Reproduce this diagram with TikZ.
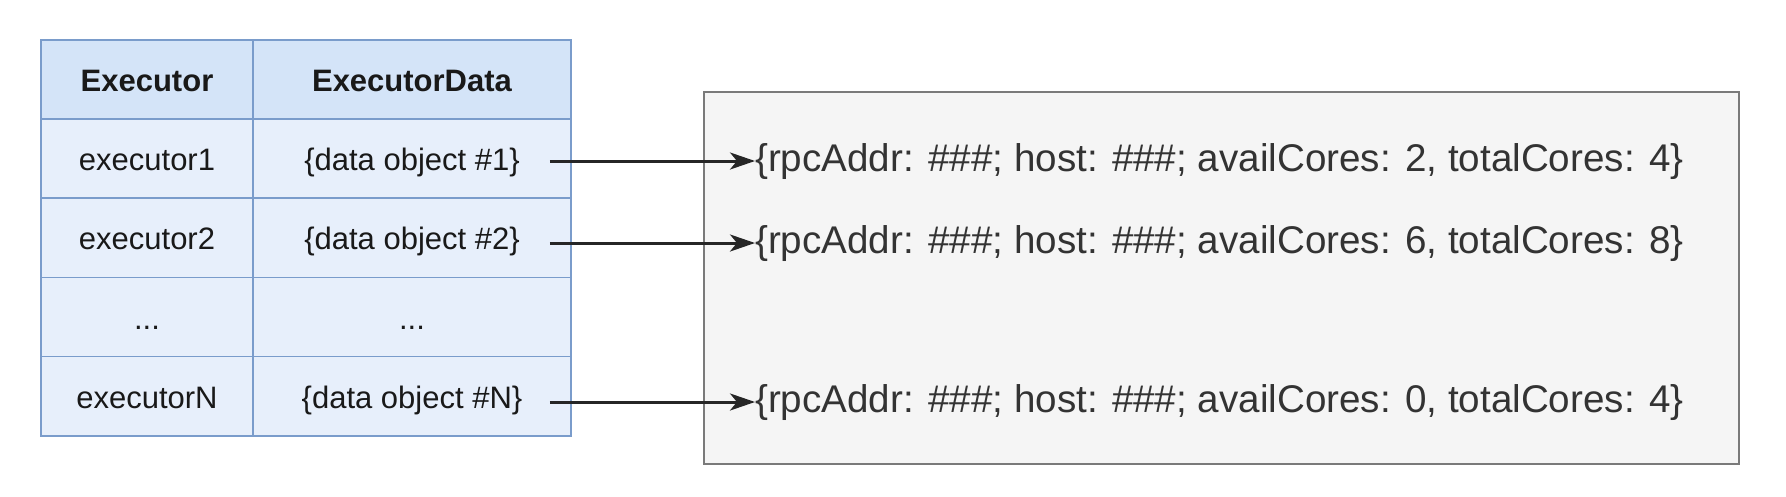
\documentclass[tikz,border=0pt]{standalone}
\usepackage{fontspec}
\setmainfont{Liberation Sans}
\usetikzlibrary{arrows.meta}
\definecolor{hdrfill}{HTML}{D4E4F8}
\definecolor{cellfill}{HTML}{E7EFFB}
\definecolor{tblline}{HTML}{7A9CCB}
\definecolor{boxfill}{HTML}{F5F5F5}
\definecolor{boxline}{HTML}{7A7A7A}
\definecolor{rtext}{HTML}{333333}
\tikzset{
  cell/.style={draw=tblline, line width=1.6pt, inner sep=0pt, text height=26pt, text depth=2pt, font=\fontsize{31}{36}\selectfont, text=black!90},
  c1/.style={cell, minimum width=212pt},
  c2/.style={cell, minimum width=318pt},
  hdr/.style={fill=hdrfill, minimum height=79pt, font=\fontsize{31}{36}\selectfont\bfseries},
  row/.style={fill=cellfill, minimum height=79.2pt},
  rec/.style={inner sep=0pt, anchor=west, text=rtext, text height=28pt, text depth=8pt, font=\fontsize{38.6}{44}\selectfont},
  link/.style={line width=3pt, black!85, -{Stealth[length=25pt,width=17pt,inset=7pt]}}
}
\begin{document}
\begin{tikzpicture}[x=1pt,y=-1pt]
\path[use as bounding box, fill=white] (0,0) rectangle (1786,496);
% gray box
\node[draw=boxline, fill=boxfill, line width=2pt, minimum width=1035pt, minimum height=372pt, inner sep=0pt] (box) at (1221.5,278) {};
% table
\node[c1,hdr] (h1) at (147,79.5) {Executor};
\node[c2,hdr] (h2) at (412,79.5) {ExecutorData};
\node[c1,row] (e1) at (147,158.6) {executor1};
\node[c2,row] (d1) at (412,158.6) {\{data object \#1\}};
\node[c1,row] (e2) at (147,237.8) {executor2};
\node[c2,row] (d2) at (412,237.8) {\{data object \#2\}};
\node[c1,row] (e3) at (147,317) {...};
\node[c2,row] (d3) at (412,317) {...};
\node[c1,row] (e4) at (147,396.2) {executorN};
\node[c2,row] (d4) at (412,396.2) {\{data object \#N\}};
% records
\node[rec] (r1) at (755,161) {\{rpcAddr: \#\#\#; host: \#\#\#; availCores: 2, totalCores: 4\}};
\node[rec] (r2) at (755,243) {\{rpcAddr: \#\#\#; host: \#\#\#; availCores: 6, totalCores: 8\}};
\node[rec] (r4) at (755,402) {\{rpcAddr: \#\#\#; host: \#\#\#; availCores: 0, totalCores: 4\}};
% arrows
\draw[link] ([xshift=-22pt]d1.east |- r1.west) -- (r1.west);
\draw[link] ([xshift=-22pt]d2.east |- r2.west) -- (r2.west);
\draw[link] ([xshift=-22pt]d4.east |- r4.west) -- (r4.west);
\end{tikzpicture}
\end{document}
